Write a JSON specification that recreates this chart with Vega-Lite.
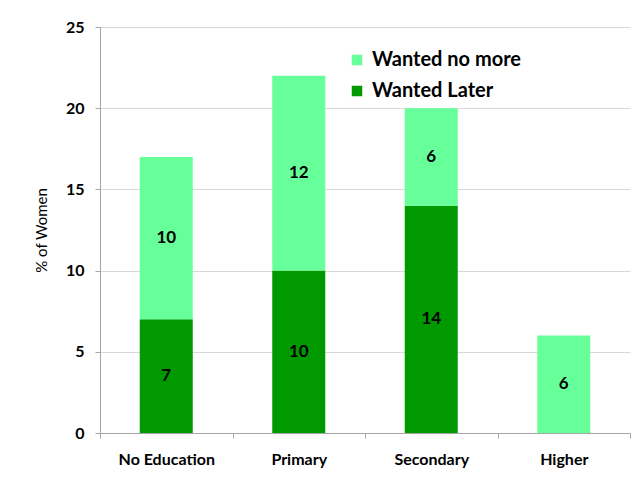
{
  "$schema": "https://vega.github.io/schema/vega-lite/v6.json",
  "width": 530,
  "height": 406,
  "autosize": "none",
  "padding": {"left": 100, "top": 27, "right": 3, "bottom": 47},
  "background": "white",
  "config": {
    "font": "Lato",
    "view": {"stroke": null}
  },
  "data": {
    "values": [
      {"edu": "No Education", "type": "Wanted Later", "value": 7},
      {"edu": "No Education", "type": "Wanted no more", "value": 10},
      {"edu": "Primary", "type": "Wanted Later", "value": 10},
      {"edu": "Primary", "type": "Wanted no more", "value": 12},
      {"edu": "Secondary", "type": "Wanted Later", "value": 14},
      {"edu": "Secondary", "type": "Wanted no more", "value": 6},
      {"edu": "Higher", "type": "Wanted no more", "value": 6}
    ]
  },
  "transform": [
    {"stack": "value", "groupby": ["edu"], "sort": [{"field": "type", "order": "ascending"}], "as": ["v0", "v1"]},
    {"calculate": "(datum.v0 + datum.v1) / 2", "as": "mid"}
  ],
  "encoding": {
    "x": {
      "field": "edu",
      "type": "nominal",
      "sort": ["No Education", "Primary", "Secondary", "Higher"],
      "scale": {"paddingInner": 0, "paddingOuter": 0},
      "axis": {
        "title": null,
        "labelAngle": 0,
        "labelFont": "Lato",
        "labelFontSize": 16,
        "labelFontWeight": "bold",
        "labelColor": "#000000",
        "labelPadding": 13,
        "domainColor": "#a6a6a6",
        "tickColor": "#a6a6a6",
        "tickSize": 5,
        "tickBand": "extent",
        "grid": false
      }
    }
  },
  "layer": [
    {
      "mark": {"type": "bar", "width": {"band": 0.4}},
      "encoding": {
        "y": {
          "field": "v1",
          "type": "quantitative",
          "scale": {"domain": [0, 25], "nice": false, "zero": true},
          "axis": {
            "title": "% of Women",
            "titleFont": "Lato",
            "titleFontSize": 15,
            "titleFontWeight": "normal",
            "titleColor": "#000000",
            "titlePadding": 16,
            "values": [0, 5, 10, 15, 20, 25],
            "labelFont": "Lato",
            "labelFontSize": 16,
            "labelFontWeight": "bold",
            "labelColor": "#000000",
            "labelPadding": 11,
            "domainColor": "#a6a6a6",
            "tickColor": "#a6a6a6",
            "tickSize": 5,
            "gridColor": "#d9d9d9",
            "gridWidth": 1
          }
        },
        "y2": {"field": "v0"},
        "color": {
          "field": "type",
          "type": "nominal",
          "scale": {"domain": ["Wanted no more", "Wanted Later"], "range": ["#66FF99", "#009900"]},
          "legend": {
            "title": null,
            "orient": "none",
            "legendX": 247,
            "legendY": 23,
            "symbolType": "square",
            "symbolSize": 110,
            "symbolStrokeWidth": 0,
            "labelFont": "Lato",
            "labelFontSize": 20,
            "labelFontWeight": "bold",
            "labelColor": "#000000",
            "rowPadding": 11,
            "labelOffset": 5
          }
        }
      }
    },
    {
      "mark": {"type": "text", "font": "Lato", "fontSize": 17, "fontWeight": "bold", "color": "#000000", "baseline": "middle"},
      "encoding": {
        "y": {"field": "mid", "type": "quantitative"},
        "text": {"field": "value", "type": "quantitative"}
      }
    }
  ]
}
